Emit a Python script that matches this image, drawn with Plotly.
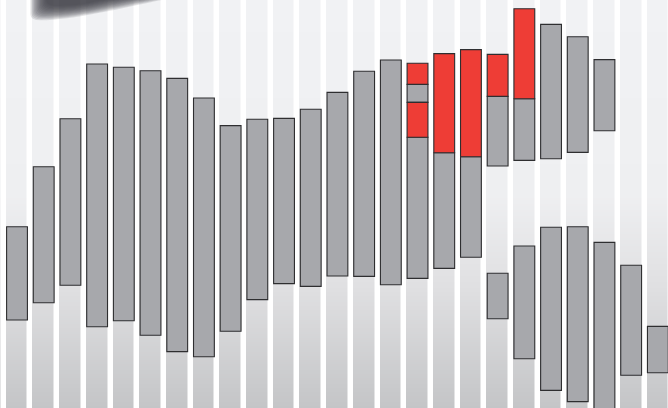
import plotly.graph_objects as go
import numpy as np

# ---- data (value scale: 0 = bottom of chart, 102 = top) ----
columns = list(range(25))

# main gray bars (lower gray segment of each upper column)
main_cols = list(range(23))
main_low = [22.0, 26.3, 30.7, 20.3, 21.8, 18.2, 14.1, 12.8, 19.2, 27.1, 31.1, 30.4,
            33.0, 32.9, 30.8, 32.4, 34.9, 37.7, 60.5, 61.9, 62.3, 63.9, 69.3]
main_high = [45.3, 60.3, 72.3, 86.0, 85.2, 84.3, 82.4, 77.5, 70.6, 72.2, 72.4, 74.7,
             78.9, 84.2, 87.0, 67.7, 63.8, 62.8, 77.9, 77.3, 95.9, 92.8, 87.1]

# extra gray segment inside column 15
extra_cols = [15]
extra_low = [76.4]
extra_high = [80.9]

# red segments
red_cols = [15, 15, 16, 17, 18, 19]
red_low = [67.7, 80.9, 63.8, 62.8, 77.9, 77.3]
red_high = [76.4, 86.2, 88.6, 89.6, 88.4, 99.8]

# lower gray bars
lower_cols = [18, 19, 20, 21, 22, 23, 24]
lower_low = [22.3, 12.3, 4.4, 1.6, -2.0, 8.2, 8.8]
lower_high = [33.7, 40.5, 45.2, 45.3, 41.4, 35.7, 20.4]

GRAY = "#a7a8ac"
RED = "#ee3d36"
EDGE = "#2e2e30"
W, H = 668, 408
Y_TOP = 102

fig = go.Figure()

# background bands with vertical gradient
bg_x = list(range(-1, 26))
bg_y = np.arange(0.25, Y_TOP, 0.5)
bg_z = np.tile(bg_y[:, None], (1, len(bg_x)))
fig.add_trace(go.Heatmap(
    x=bg_x, y=bg_y, z=bg_z, xgap=5.5, ygap=0, zmin=0, zmax=Y_TOP,
    colorscale=[[0.0, "#c4c5c7"], [0.30, "#e0e0e2"], [0.52, "#eeeff1"], [1.0, "#f1f2f4"]],
    showscale=False, hoverinfo="skip"))


def add_bars(cols, lows, highs, color):
    fig.add_trace(go.Bar(
        x=cols, y=[h - l for l, h in zip(lows, highs)], base=lows, width=0.78,
        marker=dict(color=color, line=dict(color=EDGE, width=1.1)),
        hoverinfo="skip"))


add_bars(main_cols, main_low, main_high, GRAY)
add_bars(extra_cols, extra_low, extra_high, GRAY)
add_bars(red_cols, red_low, red_high, RED)
add_bars(lower_cols, lower_low, lower_high, GRAY)


# blurred shadow at top-left (decoration), built from layered translucent paths
def P(px, py):
    return f"{px / W:.5f},{1 - py / H:.5f}"


shapes = []
for k in range(14):
    L = 46 - 1.2 * k
    R = 125 + 3.6 * k
    yb = 6 + 1.1 * k
    path = (f"M {P(L, -2)} L {P(R, -2)} "
            f"C {P(R - 40, 1 + 0.35 * k)} {P(L + 45, yb)} {P(L + 10, yb)} "
            f"Q {P(L, yb)} {P(L, yb - 6)} Z")
    shapes.append(dict(type="path", xref="paper", yref="paper", path=path,
                       fillcolor="#3a3f46", opacity=0.13, line=dict(width=0), layer="above"))

fig.update_layout(
    width=W, height=H, margin=dict(l=0, r=0, t=0, b=0),
    paper_bgcolor="white", plot_bgcolor="white",
    barmode="overlay", showlegend=False, shapes=shapes,
    xaxis=dict(visible=False, range=[-0.637, 24.38]),
    yaxis=dict(visible=False, range=[0, Y_TOP]),
)

fig.write_html("out.html", config={"displayModeBar": False},
               post_script="document.body.style.margin='0';")
